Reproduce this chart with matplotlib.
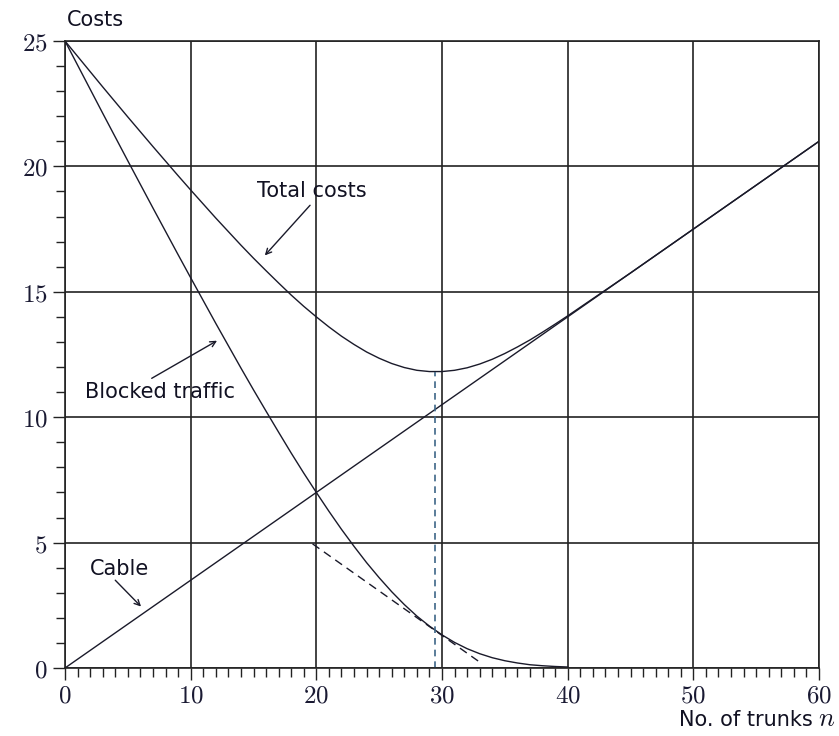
import numpy as np
import matplotlib
matplotlib.use("Agg")
import matplotlib.pyplot as plt
from matplotlib.ticker import MultipleLocator, FuncFormatter

plt.rcParams['mathtext.fontset'] = 'cm'
plt.rcParams['font.family'] = ['DejaVu Sans']

# Values (no. of trunks n = 0..40)
n_blocked = list(range(0, 41))
blocked = [25.00, 24.04, 23.08, 22.12, 21.17, 20.22, 19.28, 18.34, 17.41, 16.48,
           15.56, 14.65, 13.74, 12.85, 11.96, 11.09, 10.24, 9.40, 8.57, 7.77,
           7.00, 6.25, 5.53, 4.85, 4.20, 3.60, 3.04, 2.53, 2.07, 1.67,
           1.32, 1.02, 0.77, 0.57, 0.41, 0.29, 0.20, 0.13, 0.09, 0.06, 0.04]

n_total = list(range(0, 41)) + [45, 50, 55, 60]
total = [25.00, 24.39, 23.78, 23.17, 22.57, 21.97, 21.38, 20.79, 20.21, 19.63,
         19.06, 18.50, 17.94, 17.40, 16.86, 16.34, 15.84, 15.35, 14.87, 14.42,
         14.00, 13.60, 13.23, 12.90, 12.60, 12.35, 12.14, 11.98, 11.87, 11.82,
         11.82, 11.87, 11.97, 12.12, 12.31, 12.54, 12.80, 13.08, 13.39, 13.71,
         14.04, 15.75, 17.50, 19.25, 21.00]

n_cable = [0, 60]
cable = [0.0, 21.0]

# optimum and tangent to the blocked traffic curve
n_opt = 29.45
total_opt = 11.80
n_tangent = [19.7, 33.1]
tangent = [4.95, 0.20]

fig = plt.figure(figsize=(8.39, 7.36), dpi=100)
ax = fig.add_axes([65 / 839, 68 / 736, 754 / 839, 627 / 736])

line_kw = dict(color='#1a1a2a', linewidth=1.0)
ax.plot(n_blocked, blocked, **line_kw)
ax.plot(n_total, total, **line_kw)
ax.plot(n_cable, cable, **line_kw)
ax.plot(n_tangent, tangent, color='#1a1a2a', linewidth=1.0, linestyle=(0, (6, 4)))
ax.plot([n_opt, n_opt], [0, total_opt], color='#3d6688', linewidth=1.2,
        linestyle=(0, (4, 3)))

ax.set_xlim(0, 60)
ax.set_ylim(0, 25)
ax.xaxis.set_major_locator(MultipleLocator(10))
ax.xaxis.set_minor_locator(MultipleLocator(1))
ax.yaxis.set_major_locator(MultipleLocator(5))
ax.yaxis.set_minor_locator(MultipleLocator(1))
fmt = FuncFormatter(lambda v, p: r'$%d$' % v)
ax.xaxis.set_major_formatter(fmt)
ax.yaxis.set_major_formatter(fmt)
ax.tick_params(which='major', direction='out', length=8.5, width=1.0,
               labelsize=18, color='#222222', labelcolor='#1a1a33')
ax.tick_params(which='minor', direction='out', length=6.5, width=1.0,
               color='#222222')
ax.tick_params(axis='x', which='major', pad=3)
ax.tick_params(axis='y', which='major', pad=4)
ax.grid(True, which='major', color='#222222', linewidth=1.2)
for s in ax.spines.values():
    s.set_color('#222222')
    s.set_linewidth(1.2)
ax.set_axisbelow(True)

arrow = dict(arrowstyle='->', color='#1a1a2a', lw=1.0, shrinkA=0, shrinkB=0)
ax.annotate('Total costs', xy=(15.9, 16.45), xytext=(15.3, 19.0),
            fontsize=15, ha='left', va='center', color='#111122')
ax.annotate('', xy=(15.9, 16.45), xytext=(19.5, 18.45), arrowprops=arrow)
ax.annotate('Blocked traffic', xy=(12.1, 13.05), xytext=(1.6, 11.0),
            fontsize=15, ha='left', va='center', color='#111122')
ax.annotate('', xy=(12.1, 13.05), xytext=(6.9, 11.55), arrowprops=arrow)
ax.annotate('Cable', xy=(6.05, 2.45), xytext=(2.0, 3.95),
            fontsize=15, ha='left', va='center', color='#111122')
ax.annotate('', xy=(6.05, 2.45), xytext=(4.0, 3.5), arrowprops=arrow)

fig.text(67 / 839, 1 - 20 / 736, 'Costs', fontsize=15, ha='left', va='center',
         color='#111122')
fig.text(813 / 839, 1 - 726 / 736, 'No. of trunks', fontsize=15,
         ha='right', va='baseline', color='#111122')
fig.text(818 / 839, 1 - 726 / 736, r'$n$', fontsize=19,
         ha='left', va='baseline', color='#111122')

fig.savefig('out.png', dpi=100)
